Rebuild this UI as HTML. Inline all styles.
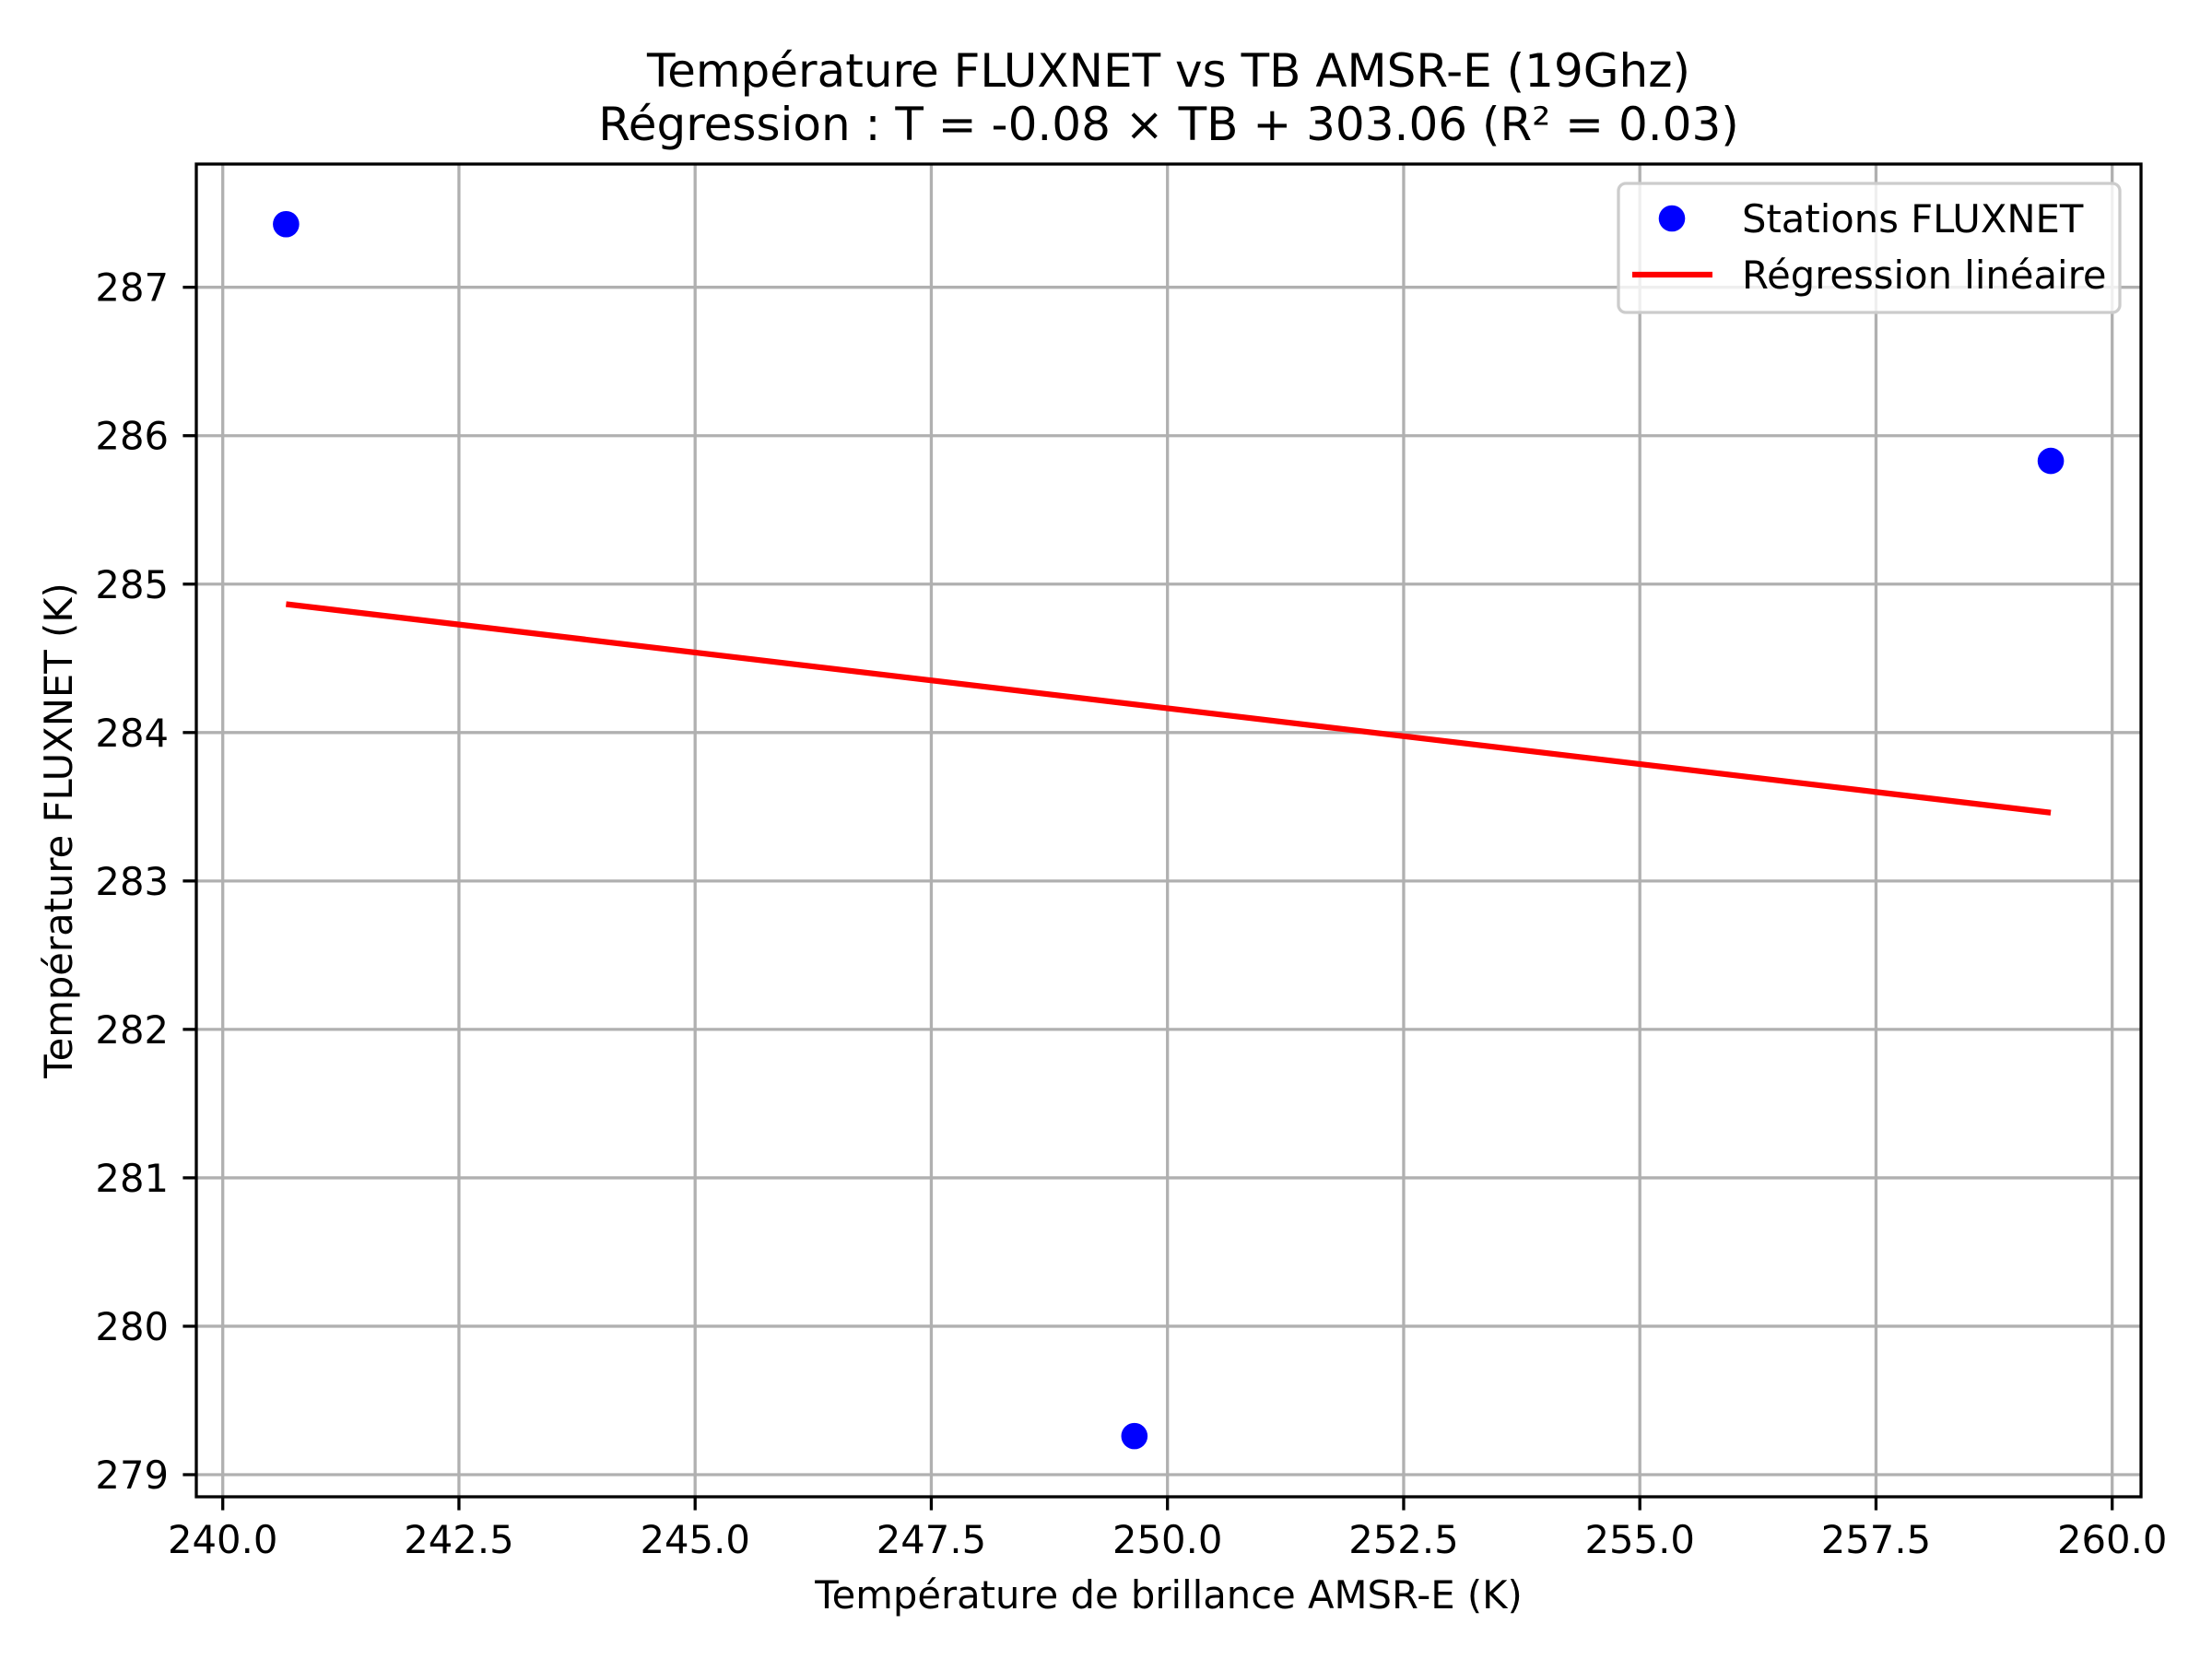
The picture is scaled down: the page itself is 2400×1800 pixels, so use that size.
<!DOCTYPE html>
<html><head><meta charset="utf-8"><style>
html,body{margin:0;padding:0;background:#fff;}
svg{display:block;font-family:"DejaVu Sans","Liberation Sans",sans-serif;}
</style></head><body>
<svg id="chart" width="2400" height="1800" viewBox="0 0 2400 1800" xmlns="http://www.w3.org/2000/svg">
<rect x="0" y="0" width="2400" height="1800" fill="#fff"/>
<text x="1268" y="94" font-size="50" text-anchor="middle">Température FLUXNET vs TB AMSR-E (19Ghz)</text>
<text x="1268" y="152" font-size="50" text-anchor="middle">Régression : T = -0.08 × TB + 303.06 (R² = 0.03)</text>
<g id="grid"></g>
<g id="marks"></g>
<rect x="213" y="178" width="2110" height="1446" fill="none" stroke="#000" stroke-width="3.3"/>
<g id="ticks"></g>
<text x="1268" y="1745" font-size="41.7" text-anchor="middle">Température de brillance AMSR-E (K)</text>
<text x="0" y="0" font-size="41.7" text-anchor="middle" transform="translate(78,901) rotate(-90)">Température FLUXNET (K)</text>
<g>
<rect x="1756" y="199" width="544" height="140" rx="8" fill="#fff" fill-opacity="0.8" stroke="#ccc" stroke-width="3.3"/>
<circle cx="1814" cy="237" r="14.3" fill="#0000ff"/>
<text x="1890" y="252" font-size="41.7">Stations FLUXNET</text>
<line x1="1771" y1="298" x2="1858" y2="298" stroke="#ff0000" stroke-width="6.25"/>
<text x="1890" y="313" font-size="41.7">Régression linéaire</text>
</g>
</svg>
<script>
const xTicks = [240.0, 242.5, 245.0, 247.5, 250.0, 252.5, 255.0, 257.5, 260.0];
const yTicks = [279, 280, 281, 282, 283, 284, 285, 286, 287];
const tbValues = [240.67, 249.65, 259.35];
const tempValues = [287.425, 279.26, 285.83];

const NS = "http://www.w3.org/2000/svg";
const L = 213, R = 2323, T = 178, B = 1624;
const xMin = 238.05, xMax = 260.25, yMin = 278.85, yMax = 287.83;
function xs(v){ return 241.7 + (v - 240) * 102.5; }
function ys(v){ return 1600 - (v - 279) * 161.04; }
function mk(tag, attrs, parent){ const e = document.createElementNS(NS, tag); for (const k in attrs) e.setAttribute(k, attrs[k]); parent.appendChild(e); return e; }

const grid = document.getElementById('grid');
const ticks = document.getElementById('ticks');
const marks = document.getElementById('marks');

xTicks.forEach(v => {
  const x = xs(v);
  const g = mk('line', {x1:x, y1:T, x2:x, y2:B, stroke:'#b0b0b0', 'stroke-width':3.3}, grid);
  
  
  const t = mk('line', {x1:x, y1:B, x2:x, y2:B+14.6, stroke:'#000', 'stroke-width':3.3}, ticks);
  
  
  const lb = mk('text', {x:x, y:1685, 'font-size':41.7, 'text-anchor':'middle'}, ticks);
  lb.textContent = v.toFixed(1);
  
  
});
yTicks.forEach(v => {
  const y = ys(v);
  const g = mk('line', {x1:L, y1:y, x2:R, y2:y, stroke:'#b0b0b0', 'stroke-width':3.3}, grid);
  
  
  const t = mk('line', {x1:L-14.6, y1:y, x2:L, y2:y, stroke:'#000', 'stroke-width':3.3}, ticks);
  
  
  const lb = mk('text', {x:183, y:y+15, 'font-size':41.7, 'text-anchor':'end'}, ticks);
  lb.textContent = String(v);
  
  
});

// regression computed from the data
const n = tbValues.length;
const mx = tbValues.reduce((a,b)=>a+b,0)/n, my = tempValues.reduce((a,b)=>a+b,0)/n;
let sxx = 0, sxy = 0;
for (let i = 0; i < n; i++){ sxx += (tbValues[i]-mx)**2; sxy += (tbValues[i]-mx)*(tempValues[i]-my); }
const slope = sxy / sxx, icpt = my - slope * mx;
const x0 = Math.min(...tbValues), x1 = Math.max(...tbValues);
const reg = mk('line', {x1:xs(x0), y1:ys(slope*x0+icpt), x2:xs(x1), y2:ys(slope*x1+icpt), stroke:'#ff0000', 'stroke-width':6.25}, marks);



tbValues.forEach((v, i) => {
  const c = mk('circle', {cx:xs(v), cy:ys(tempValues[i]), r:14.3, fill:'#0000ff'}, marks);
  
  
});
</script>
</body></html>
